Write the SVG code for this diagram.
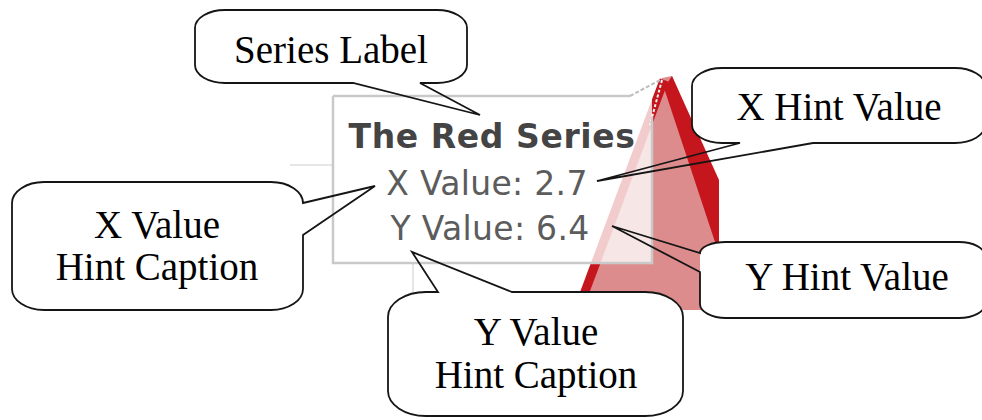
<svg xmlns="http://www.w3.org/2000/svg" width="982" height="420" viewBox="0 0 982 420">
<style>
.body{fill:#fff}
.outline{fill:none;stroke:#151515;stroke-width:1.8;stroke-linejoin:miter}
.lbl{font-family:"Liberation Serif","Times New Roman",serif;font-size:39px;fill:#000;text-anchor:middle}
.hint{font-family:"DejaVu Sans",Verdana,sans-serif;text-anchor:middle}
.dark{fill:#c4161c}
</style>
<rect width="982" height="420" fill="#fff"/>
<g id="chart">
  <line x1="290" y1="165" x2="333" y2="165" stroke="#e6e6e6" stroke-width="2"/>
  <line x1="413" y1="263" x2="413" y2="292" stroke="#e6e6e6" stroke-width="2"/>
  <polygon points="575,310 662,78 672,76 718,185 718,310" fill="#dc8c8c"/>
  <line x1="664" y1="80" x2="580" y2="305" stroke="#c4161c" stroke-width="9"/>
  <polygon class="dark" points="664,88 672,76 719,180 719,245 716,245"/>
  <line x1="662" y1="80" x2="650" y2="125" stroke="#e8f4f6" stroke-width="2" stroke-dasharray="3 2"/>
  <rect x="333" y="96" width="319" height="167" fill="#fff" fill-opacity="0.78"/>
  <path d="M333,96 H630 M652,117 V263 H333 V96" fill="none" stroke="#c9c9c9" stroke-width="2.5"/>
  <line x1="630" y1="96" x2="662" y2="79" stroke="#bdbdbd" stroke-width="2" stroke-dasharray="4 2"/>
  <text class="hint" x="492" y="148" font-size="33" font-weight="bold" fill="#444" letter-spacing="0.6">The Red Series</text>
  <text class="hint" x="487" y="195" font-size="33" fill="#5c5c5c" letter-spacing="0.3">X Value: 2.7</text>
  <text class="hint" x="490" y="240" font-size="33" fill="#5c5c5c" letter-spacing="0.3">Y Value: 6.4</text>
</g>
<g id="series-label">
  <rect class="body" x="195" y="10" width="272" height="73" rx="30" ry="18"/>
  <path class="outline" d="M225,10 H437 A30 18 0 0 1 467,28 V65 A30 18 0 0 1 437,83 H420 L480,115 L353,83 H225 A30 18 0 0 1 195,65 V28 A30 18 0 0 1 225,10 Z"/>
  <text class="lbl" x="331" y="63">Series Label</text>
</g>
<g id="x-hint-value">
  <rect class="body" x="692" y="68" width="293" height="75" rx="30" ry="18"/>
  <path class="outline" d="M722,68 H955 A30 18 0 0 1 985,86 V125 A30 18 0 0 1 955,143 H813 L597,181 L740,143 H722 A30 18 0 0 1 692,125 V86 A30 18 0 0 1 722,68 Z"/>
  <text class="lbl" x="839" y="120">X Hint Value</text>
</g>
<g id="x-value-hint-caption">
  <rect class="body" x="12" y="182" width="291" height="128" rx="32" ry="21"/>
  <path class="outline" d="M44,182 H271 A32 21 0 0 1 303,203 L375,186 L303,235 V289 A32 21 0 0 1 271,310 H44 A32 21 0 0 1 12,289 V203 A32 21 0 0 1 44,182 Z"/>
  <text class="lbl" x="157" y="238">X Value</text>
  <text class="lbl" x="157" y="280">Hint Caption</text>
</g>
<g id="y-value-hint-caption">
  <rect class="body" x="388" y="292" width="295" height="124" rx="38" ry="25"/>
  <path class="outline" d="M426,292 H438 L412,252 L512,292 H645 A38 25 0 0 1 683,317 V391 A38 25 0 0 1 645,416 H426 A38 25 0 0 1 388,391 V317 A38 25 0 0 1 426,292 Z"/>
  <text class="lbl" x="536" y="345">Y Value</text>
  <text class="lbl" x="536" y="388">Hint Caption</text>
</g>
<g id="y-hint-value">
  <rect class="body" x="700" y="242" width="285" height="76" rx="26" ry="14"/>
  <path class="outline" d="M726,242 H959 A26 14 0 0 1 985,256 V304 A26 14 0 0 1 959,318 H726 A26 14 0 0 1 700,304 V272 L612,226 L700,253 A26 11 0 0 1 726,242 Z"/>
  <text class="lbl" x="847" y="290">Y Hint Value</text>
</g>
</svg>
